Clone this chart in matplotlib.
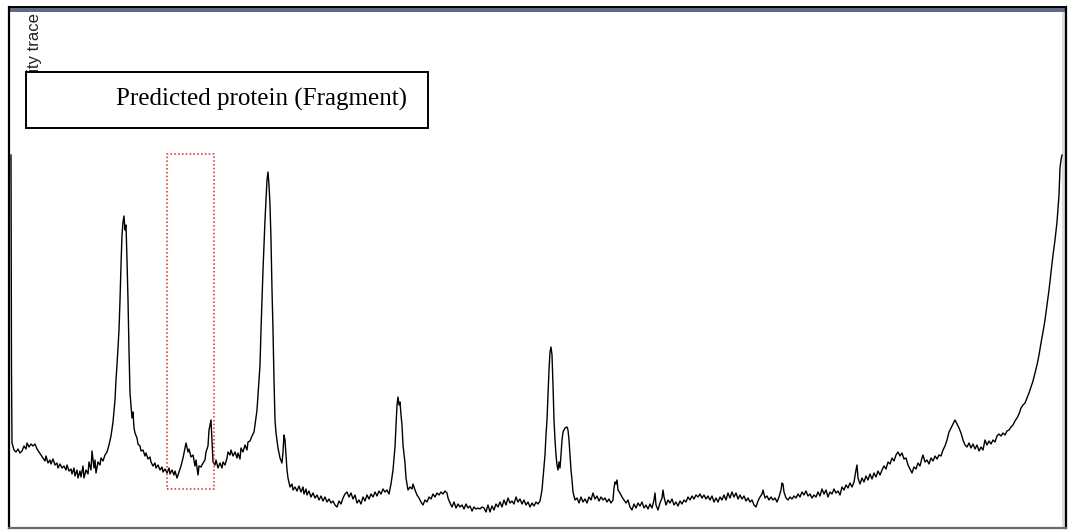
import matplotlib
matplotlib.use("Agg")
import matplotlib.pyplot as plt
from matplotlib.patches import Rectangle

# scan position along the fragment and the traced intensity
pos = [11, 11.5, 12, 14, 16, 18, 20, 22, 24, 26, 27, 29, 31, 33, 35, 37, 39, 41, 43, 45,
       46, 48, 50, 51, 53, 55, 57, 58, 60, 62, 64, 66, 67, 69, 71, 72, 74, 75, 77, 78,
       80, 81, 83, 84, 86, 88, 89, 91, 92, 94, 95, 96, 98, 100, 101, 103, 105, 107, 109, 111,
       113, 115, 116, 117, 119, 120, 121, 122, 123, 124, 125, 126, 127, 128, 129, 130, 131, 132, 133, 134,
       135, 137, 138, 140, 141, 143, 145, 146, 148, 150, 151, 153, 155, 156, 158, 160, 162, 163, 165, 167,
       169, 170, 172, 174, 175, 177, 179, 181, 183, 185, 186, 188, 189, 191, 193, 195, 196, 198, 199, 201,
       203, 205, 206, 208, 209, 210, 211, 212, 213, 215, 216, 218, 220, 222, 223, 225, 227, 228, 230, 231,
       233, 235, 237, 238, 240, 241, 243, 245, 247, 248, 250, 252, 254, 255, 257, 258, 260, 261, 262, 263,
       264, 265, 266, 267, 268, 269, 270, 271, 272, 273, 274, 275, 276, 278, 280, 282, 283, 284, 285, 286,
       287, 288, 290, 292, 293, 295, 297, 299, 301, 303, 304, 306, 307, 309, 311, 313, 315, 317, 319, 321,
       323, 325, 327, 329, 331, 333, 335, 337, 339, 341, 343, 345, 347, 349, 351, 353, 355, 357, 359, 361,
       363, 365, 367, 369, 371, 373, 375, 377, 379, 381, 383, 385, 387, 389, 391, 393, 395, 396, 397, 398,
       399, 400, 401, 402, 403, 405, 406, 408, 410, 412, 413, 415, 417, 419, 421, 423, 425, 427, 429, 431,
       433, 435, 437, 439, 441, 443, 445, 447, 448, 450, 452, 454, 456, 458, 460, 462, 464, 466, 468, 470,
       472, 474, 476, 478, 480, 482, 484, 486, 488, 490, 492, 494, 496, 498, 500, 502, 504, 506, 508, 510,
       512, 514, 516, 518, 520, 522, 524, 526, 528, 530, 532, 534, 536, 538, 540, 542, 543, 545, 546, 547,
       548, 549, 550, 551, 552, 553, 554, 555, 556, 557, 558, 559, 560, 561, 562, 563, 565, 567, 568, 569,
       570, 571, 572, 573, 575, 577, 579, 581, 583, 585, 587, 589, 591, 593, 595, 597, 599, 601, 603, 605,
       607, 609, 611, 613, 614, 615, 616, 617, 618, 620, 622, 624, 626, 628, 630, 632, 634, 636, 638, 640,
       642, 644, 646, 648, 650, 652, 654, 655, 656, 658, 660, 662, 663, 664, 666, 668, 670, 672, 674, 676,
       678, 680, 682, 684, 686, 688, 690, 692, 694, 696, 698, 700, 702, 704, 706, 708, 710, 712, 714, 716,
       718, 720, 722, 724, 726, 728, 730, 732, 734, 736, 738, 740, 742, 744, 746, 748, 750, 752, 754, 756,
       758, 760, 762, 763, 765, 767, 769, 771, 773, 775, 777, 779, 781, 782, 783, 784, 786, 788, 790, 792,
       794, 796, 798, 800, 802, 804, 806, 808, 810, 812, 814, 816, 818, 820, 822, 824, 826, 828, 830, 832,
       834, 836, 838, 840, 842, 844, 846, 848, 850, 852, 854, 856, 857, 858, 860, 862, 864, 866, 868, 870,
       872, 874, 876, 878, 880, 882, 884, 886, 888, 890, 892, 894, 896, 898, 900, 902, 904, 906, 908, 910,
       912, 914, 916, 918, 920, 922, 923, 925, 927, 929, 931, 933, 935, 937, 939, 941, 943, 945, 947, 949,
       951, 953, 955, 957, 959, 961, 963, 965, 967, 969, 971, 973, 975, 977, 979, 981, 983, 985, 987, 989,
       991, 993, 995, 997, 999, 1001, 1003, 1005, 1007, 1009, 1011, 1013, 1015, 1017, 1019, 1021, 1023, 1025, 1027, 1029,
       1031, 1033, 1035, 1037, 1039, 1041, 1043, 1045, 1047, 1049, 1051, 1053, 1055, 1057, 1059, 1060, 1061, 1062]

intensity = [373, 156, 85, 78, 76, 79, 75, 77, 82, 79, 85, 81, 84, 82, 84, 79, 76, 73, 70, 67,
             72, 65, 68, 64, 69, 63, 65, 60, 64, 60, 62, 58, 63, 57, 59, 54, 60, 52, 58, 50,
             57, 51, 62, 50, 58, 54, 66, 58, 77, 60, 68, 55, 66, 63, 70, 67, 73, 76, 83, 92,
             106, 128, 148, 163, 198, 228, 263, 293, 306, 312, 298, 303, 268, 228, 178, 135, 123, 110, 116, 100,
             95, 90, 84, 82, 77, 78, 72, 75, 69, 71, 66, 62, 65, 60, 63, 58, 61, 56, 59, 55,
             60, 54, 58, 53, 57, 50, 56, 62, 70, 80, 85, 76, 79, 71, 73, 62, 68, 53, 62, 61,
             65, 68, 76, 82, 98, 103, 108, 88, 66, 63, 68, 60, 65, 60, 66, 63, 70, 76, 73, 78,
             72, 76, 70, 75, 69, 80, 76, 83, 78, 86, 87, 92, 96, 103, 118, 133, 163, 198, 228, 258,
             283, 308, 328, 348, 356, 343, 323, 288, 238, 198, 148, 108, 95, 80, 70, 65, 76, 93, 88, 73,
             58, 50, 41, 44, 38, 41, 37, 42, 36, 41, 34, 39, 33, 37, 31, 35, 30, 33, 28, 32,
             27, 31, 26, 29, 25, 27, 23, 21, 27, 24, 30, 34, 36, 31, 35, 29, 33, 25, 28, 24,
             31, 27, 33, 29, 34, 31, 36, 32, 37, 34, 39, 36, 38, 34, 44, 58, 81, 103, 123, 131,
             123, 126, 113, 103, 83, 65, 50, 38, 41, 39, 44, 38, 33, 30, 26, 23, 28, 26, 31, 29,
             34, 31, 35, 33, 36, 34, 37, 35, 30, 25, 21, 26, 20, 24, 21, 23, 19, 24, 20, 22,
             17, 21, 19, 20, 19, 21, 20, 16, 23, 16, 22, 18, 24, 21, 26, 21, 28, 23, 30, 25,
             27, 24, 31, 26, 29, 24, 28, 23, 26, 21, 25, 22, 26, 24, 27, 38, 50, 73, 93, 108,
             133, 158, 176, 181, 173, 143, 108, 88, 73, 63, 58, 66, 60, 73, 88, 96, 100, 101, 98, 88,
             73, 58, 48, 36, 28, 30, 25, 31, 26, 29, 25, 31, 28, 35, 29, 32, 27, 31, 28, 30,
             26, 29, 25, 28, 40, 46, 44, 48, 38, 35, 31, 28, 25, 28, 21, 18, 24, 20, 25, 22,
             26, 20, 23, 19, 24, 20, 28, 35, 23, 18, 25, 30, 38, 31, 23, 28, 25, 29, 23, 26,
             22, 27, 24, 28, 26, 31, 28, 32, 29, 33, 31, 34, 30, 33, 29, 32, 28, 32, 26, 30,
             26, 31, 28, 33, 28, 35, 30, 36, 31, 35, 29, 33, 29, 32, 27, 30, 26, 28, 23, 21,
             27, 31, 34, 38, 30, 32, 28, 31, 28, 30, 26, 31, 38, 45, 44, 36, 30, 28, 31, 29,
             32, 30, 34, 31, 36, 33, 37, 32, 34, 30, 33, 31, 36, 32, 39, 34, 38, 31, 36, 34,
             39, 35, 37, 33, 41, 38, 43, 40, 45, 41, 46, 58, 63, 50, 44, 50, 46, 52, 48, 54,
             49, 55, 51, 57, 53, 58, 62, 59, 66, 64, 70, 67, 73, 76, 72, 75, 69, 70, 63, 59,
             55, 61, 59, 65, 62, 70, 73, 66, 68, 64, 70, 67, 72, 69, 73, 72, 78, 82, 88, 96,
             100, 104, 108, 104, 100, 95, 88, 83, 81, 85, 80, 84, 79, 83, 77, 81, 78, 88, 83, 87,
             84, 88, 86, 92, 94, 92, 95, 93, 97, 98, 101, 103, 107, 110, 114, 120, 123, 125, 130, 135,
             141, 147, 155, 163, 173, 185, 196, 208, 223, 238, 256, 273, 288, 306, 333, 360, 368, 373]

title = "Predicted protein (Fragment)"
ylabel = "Intensity trace"

# highlighted window on the scan
win_start, win_end = 167, 214
win_low, win_high = 39, 374

fig = plt.figure(figsize=(10.7, 5.31), dpi=100)
ax = fig.add_axes([9 / 1070, 3 / 531, 1057 / 1070, 521 / 531])
ax.set_xlim(9, 1066)
ax.set_ylim(0, 521)
ax.set_xticks([])
ax.set_yticks([])

ax.plot(pos, intensity, color="black", lw=1.0, zorder=3)

# frame
ax.spines["left"].set_linewidth(1.6)
ax.spines["top"].set_linewidth(1.4)
ax.spines["right"].set_linewidth(1.6)
ax.spines["bottom"].set_color("#6a6a6a")
ax.spines["bottom"].set_linewidth(1.6)
ax.add_patch(Rectangle((0, 1 - 5 / 521), 1, 5 / 521, transform=ax.transAxes,
                       facecolor="#5f6b84", edgecolor="none", zorder=1))
ax.add_patch(Rectangle((1 - 4 / 1057, 0), 3 / 1057, 1 - 5 / 521, transform=ax.transAxes,
                       facecolor="#dcdce4", edgecolor="none", zorder=1))

ax.text(34, 515, ylabel, rotation=90, ha="center", va="top", fontsize=12,
        family="Liberation Sans", color="#222222", zorder=2)

# title box sits over the axis label
ax.add_patch(Rectangle((26, 400), 402, 56, facecolor="white", edgecolor="black",
                       lw=1.4, zorder=4))
ax.text(261.5, 422, title, ha="center", va="baseline", fontsize=18,
        family="Liberation Serif", color="black", zorder=5)

ax.add_patch(Rectangle((win_start, win_low), win_end - win_start, win_high - win_low,
                       facecolor="none", edgecolor="#d42a2a", lw=1.1,
                       linestyle=(0, (1, 1.5)), zorder=4))

fig.savefig("out.png", dpi=100)
